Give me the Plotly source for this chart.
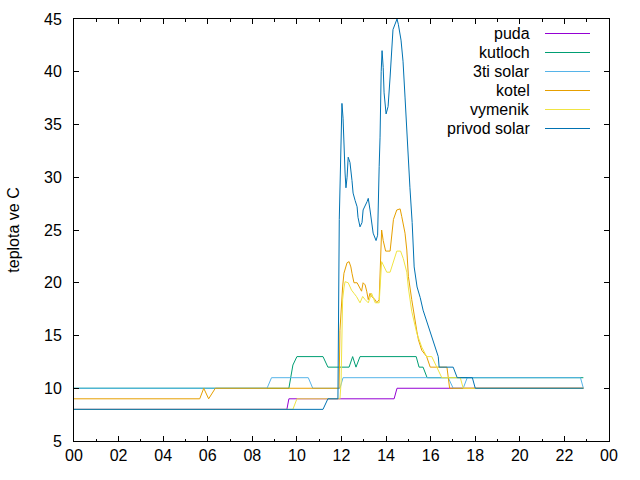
import pandas as pd
import plotly.graph_objects as go

# ---- data (hours of day, temperature in C) ----
puda_t = [0, 9.55, 9.64, 14.36, 14.49, 22.85]
puda_v = [8, 8, 9, 9, 10, 10]

kutloch_t = [0, 9.64, 9.82, 10.0, 11.17, 11.39, 12.34, 12.5, 12.65, 12.83, 15.35, 15.48, 15.66, 15.84, 22.85]
kutloch_v = [10, 10, 12.2, 13, 13, 12, 12, 13, 12, 13, 13, 12, 12, 11, 11]

solar3_t = [0, 8.66, 8.86, 10.51, 10.71, 11.93, 12.07, 16.79, 17.01, 17.46, 17.64, 22.72, 22.85]
solar3_v = [10, 10, 11, 11, 10, 10, 11, 11, 10, 10, 11, 11, 10]

kotel_t = [0, 5.64, 5.82, 6.04, 6.34, 11.89, 11.93, 11.98, 12.05, 12.11, 12.25, 12.34, 12.42,
           12.47, 12.56, 12.7, 12.83, 12.9, 12.97, 13.06, 13.13, 13.2, 13.28, 13.35, 13.51,
           13.58, 13.69, 13.73, 13.8, 13.87, 13.98, 14.18, 14.26, 14.33, 14.48, 14.63, 14.7,
           14.85, 14.93, 15.0, 15.15, 15.3, 15.38, 15.45, 15.6, 15.82, 15.98, 16.73, 16.85, 22.85]
kotel_v = [9, 9, 10, 9, 10, 10, 15.5, 17.7, 19.6, 20.9, 21.9, 22, 21.5,
           20.9, 20, 20, 19.5, 19.2, 20, 19.8, 19.2, 18.4, 19, 18.7, 18.4,
           18.1, 18.4, 21.2, 25, 24, 23, 23, 24.7, 26, 26.9, 27, 26.3,
           24.7, 23.1, 20.6, 18.4, 16.2, 15.4, 14.6, 13.6, 13, 12, 12, 10, 10]

vymenik_t = [0, 9.82, 10.0, 11.93, 11.98, 12.05, 12.11, 12.16, 12.3, 12.45, 12.56, 12.67,
             12.83, 12.95, 13.06, 13.2, 13.35, 13.51, 13.69, 13.73, 13.8, 13.87, 14.03, 14.18,
             14.33, 14.48, 14.65, 14.77, 14.93, 15.0, 15.15, 15.38, 15.6, 15.82, 16.05, 16.5,
             17.33, 17.46, 22.85]
vymenik_v = [8, 8, 9, 9, 10.5, 18.4, 19.5, 20.1, 20, 19.3, 19, 18.7,
             18.1, 18.7, 18.4, 18.1, 19, 18.1, 18.1, 19.6, 22, 21.7, 21, 21,
             22, 23, 23, 22.3, 21, 19.5, 17.3, 15.2, 13.9, 13, 13, 11,
             11, 10, 10]

privod_t = [0, 11.17, 11.39, 11.84, 11.9, 11.96, 12.02, 12.07, 12.1, 12.16, 12.2, 12.25, 12.3,
            12.38, 12.47, 12.52, 12.61, 12.7, 12.74, 12.83, 12.92, 12.97, 13.15, 13.2, 13.28,
            13.37, 13.42, 13.55, 13.62, 13.69, 13.73, 13.78, 13.82, 13.87, 13.91, 14.0, 14.09,
            14.18, 14.27, 14.31, 14.49, 14.55, 14.67, 14.76, 14.85, 14.98, 15.07, 15.17, 15.26,
            15.39, 15.53, 15.66, 15.84, 16.07, 16.2, 16.34, 16.38, 17.01, 17.19, 17.87, 18.0, 22.85]
privod_v = [8, 8, 9, 9, 26, 33, 37, 35.6, 33.5, 30.4, 29, 30, 31.9,
            31.4, 29.7, 28.5, 27.8, 27.2, 26.2, 25.3, 25.7, 26.9, 27.7, 28, 26.9,
            25.7, 24.7, 24, 24.5, 31, 33.8, 40, 42, 40.4, 38, 36, 36.7,
            39.5, 42.7, 44, 45, 44.5, 43, 41, 37.6, 31.9, 29, 25.7, 21.5,
            19.6, 18.6, 17.4, 16.2, 14.9, 13.9, 13, 12, 12, 11, 11, 10, 10]

names = ["puda", "kutloch", "3ti solar", "kotel", "vymenik", "privod solar"]
colors = ["#9400d3", "#009e73", "#56b4e9", "#e69f00", "#f0e442", "#0072b2"]
series = [(puda_t, puda_v), (kutloch_t, kutloch_v), (solar3_t, solar3_v),
          (kotel_t, kotel_v), (vymenik_t, vymenik_v), (privod_t, privod_v)]

x_ticks = ["00", "02", "04", "06", "08", "10", "12", "14", "16", "18", "20", "22", "00"]
y_ticks = [5, 10, 15, 20, 25, 30, 35, 40, 45]

base = pd.Timestamp("2020-01-01 00:00")


def to_time(hours):
    return [base + pd.Timedelta(hours=h) for h in hours]


FONT = "Liberation Sans, Arial, sans-serif"

fig = go.Figure()
for (t, v), name, col in zip(series, names, colors):
    fig.add_trace(go.Scatter(x=to_time(t), y=v, mode="lines", name=name,
                             line=dict(color=col, width=1), showlegend=False))

# gnuplot-style legend: text right-aligned, sample line on its right
L, T, W, H = 74, 19, 535, 422
text_right = 531.5
line_x0, line_x1 = 545, 590
row0, step = 33.5, 19
for i, (name, col) in enumerate(zip(names, colors)):
    ypx = row0 + i * step
    yp = 1 - (ypx - T) / H
    fig.add_annotation(xref="paper", yref="paper", x=(text_right - L) / W, y=yp,
                       text=name, showarrow=False, xanchor="right", yanchor="middle",
                       font=dict(family=FONT, size=16, color="black"))
    fig.add_shape(type="line", xref="paper", yref="paper",
                  x0=(line_x0 - L) / W, x1=(line_x1 - L) / W, y0=yp, y1=yp,
                  line=dict(color=col, width=1))

tickvals_x = to_time(list(range(0, 25, 2)))
fig.update_layout(
    width=640, height=480,
    margin=dict(l=L, r=640 - L - W, t=T, b=480 - T - H),
    paper_bgcolor="white", plot_bgcolor="white",
    font=dict(family=FONT, size=16, color="black"),
    xaxis=dict(
        type="date", range=[to_time([0])[0], to_time([24])[0]],
        tickmode="array", tickvals=tickvals_x, ticktext=x_ticks,
        ticks="inside", ticklen=5, tickcolor="black", tickwidth=1,
        minor=dict(ticks="inside", ticklen=2.5, tickcolor="black", tickwidth=1,
                   dtick=3600000, tick0=to_time([0])[0]),
        showline=True, linecolor="black", linewidth=1, mirror="ticks",
        showgrid=False, zeroline=False,
        tickfont=dict(family=FONT, size=16, color="black"),
    ),
    yaxis=dict(
        range=[5, 45], tickmode="array", tickvals=y_ticks,
        ticks="inside", ticklen=5, tickcolor="black", tickwidth=1,
        showline=True, linecolor="black", linewidth=1, mirror="ticks",
        showgrid=False, zeroline=False, ticklabelstandoff=8,
        tickfont=dict(family=FONT, size=16, color="black"),
        title=dict(text="teplota ve C", standoff=20,
                   font=dict(family=FONT, size=16, color="black")),
    ),
)

fig.write_html("out.html")
